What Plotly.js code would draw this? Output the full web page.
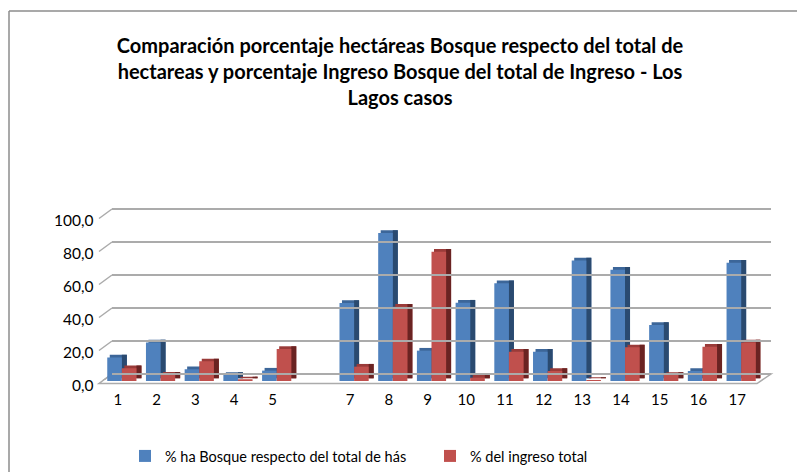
<!DOCTYPE html>
<html>
<head>
<meta charset="utf-8">
<script src="https://cdn.plot.ly/plotly-3.0.1.min.js"></script>
<style>html,body{margin:0;padding:0;background:#fff;}#chart{width:797px;height:472px;}</style>
</head>
<body>
<div id="chart"></div>
<script>
// ---- data ----
var categories = [1, 2, 3, 4, 5, 7, 8, 9, 10, 11, 12, 13, 14, 15, 16, 17];
var haBosque = [14.3, 23.4, 7.1, 3.6, 6.3, 47.3, 89.7, 18.4, 47.5, 59.2, 17.8, 73.1, 67.5, 33.9, 6.1, 71.7];
var ingresoTotal = [7.7, 3.8, 11.9, 1.0, 19.4, 8.7, 45.0, 78.4, 2.0, 17.8, 6.1, 0.6, 20.4, 3.6, 20.8, 23.4];
var seriesNames = ['% ha Bosque respecto del total de hás', '% del ingreso total'];
var yTickVals = [0, 20, 40, 60, 80, 100];
var yTickText = ['0,0', '20,0', '40,0', '60,0', '80,0', '100,0'];
var xTickText = categories.map(String);
var titleText = 'Comparación porcentaje hectáreas Bosque respecto del total de<br>hectareas y porcentaje Ingreso Bosque del total de Ingreso - Los<br>Lagos casos';

// ---- geometry helpers (layout only) ----
var W = 797, H = 472;
var ML = 99, MR = 26, MT = 200, MB = 88;
var PW = W - ML - MR, PH = H - MT - MB;
function fx(px) { return (px - ML) / PW; }
function fy(py) { return (H - MB - py) / PH; }

var unitPx = (760.5 - 102.5) / 17;      // px per category
var valPx = (381 - 216) / 100;          // px per value unit
var barW = 14.6 / unitPx;
var topShift = 2.5 / unitPx;
var sideW = 5 / unitPx;
var depthBase = 2.7 / valPx;

var font = 'Lato, "Open Sans", sans-serif';

function faces(vals, name, cFront, cTop, cSide, off) {
  return [
    { type: 'bar', x: categories, y: vals, base: depthBase, width: barW + topShift, offset: off + topShift,
      marker: { color: cTop }, showlegend: false, hoverinfo: 'skip' },
    { type: 'bar', x: categories, y: vals, base: depthBase, width: sideW, offset: off + barW,
      marker: { color: cSide }, showlegend: false, hoverinfo: 'skip' },
    { type: 'bar', x: categories, y: vals, width: barW, offset: off, name: name,
      marker: { color: cFront }, hovertemplate: '%{x}: %{y:.1f}<extra>' + name + '</extra>' }
  ];
}

var traces = [
  // back-wall helper (invisible) so gridline axes render
  { type: 'scatter', mode: 'markers', x: categories, y: haBosque, xaxis: 'x2', yaxis: 'y2',
    marker: { opacity: 0 }, showlegend: false, hoverinfo: 'skip' }
].concat(
  faces(haBosque, seriesNames[0], '#4F81BD', '#3C6699', '#2A4A70', -barW),
  faces(ingresoTotal, seriesNames[1], '#C0504D', '#9A3B39', '#6A2322', 0)
);

var shapes = [];
// floor
shapes.push({ type: 'path', xref: 'paper', yref: 'paper', layer: 'below',
  path: 'M ' + fx(99) + ' ' + fy(383.5) + ' L ' + fx(757) + ' ' + fy(383.5) +
        ' L ' + fx(771) + ' ' + fy(374) + ' L ' + fx(112) + ' ' + fy(374) + ' Z',
  line: { color: '#ABABAB', width: 1.5 }, fillcolor: '#FFFFFF' });
// diagonal connectors from front labels to back-wall gridlines
yTickVals.forEach(function (v) {
  shapes.push({ type: 'line', xref: 'paper', yref: 'y2', ysizemode: 'pixel', yanchor: v,
    x0: fx(112), x1: fx(99), y0: 0, y1: -9.5, layer: 'below',
    line: { color: '#ABABAB', width: 1.5 } });
});
// chart border (left & top visible)
shapes.push({ type: 'line', xref: 'paper', yref: 'paper', x0: fx(9), x1: fx(9), y0: fy(11), y1: fy(490),
  line: { color: '#8C8C8C', width: 1.5 } });
shapes.push({ type: 'line', xref: 'paper', yref: 'paper', x0: fx(9), x1: fx(810), y0: fy(11), y1: fy(11),
  line: { color: '#8C8C8C', width: 1.5 } });

var layout = {
  width: W, height: H,
  margin: { l: ML, r: MR, t: MT, b: MB, pad: 0, autoexpand: false },
  paper_bgcolor: '#FFFFFF', plot_bgcolor: 'rgba(0,0,0,0)',
  font: { family: font, color: '#000000', size: 15 },
  title: { text: titleText, font: { family: font, size: 20, color: '#000000', weight: 'bold' },
    x: 400 / W, xanchor: 'center', xref: 'container', y: 1 - 53 / H, yanchor: 'middle', yref: 'container',
    automargin: false },
  barmode: 'overlay',
  showlegend: true,
  legend: { orientation: 'h', x: fx(125), xanchor: 'left', y: fy(456), yanchor: 'middle',
    font: { family: font, size: 14.5, color: '#000000' }, entrywidth: 260, itemwidth: 30,
    bgcolor: 'rgba(0,0,0,0)' },
  xaxis: { domain: [fx(102.5), fx(760.5)], range: [0.5, 17.5], tickvals: categories, ticktext: xTickText,
    showgrid: false, zeroline: false, showline: false, ticks: '', ticklabelshift: -4, ticklabelstandoff: 8,
    tickfont: { family: font, size: 15, color: '#000000' }, anchor: 'y', fixedrange: true },
  yaxis: { domain: [fy(381), fy(216)], range: [0, 100], tickvals: yTickVals, ticktext: yTickText,
    showgrid: false, zeroline: false, showline: false, ticks: '', ticklabelshift: 5, ticklabelstandoff: 8,
    tickfont: { family: font, size: 15.5, color: '#000000' }, anchor: 'x', fixedrange: true },
  xaxis2: { domain: [fx(112), 1], range: [0.5, 17.5], anchor: 'y2', showticklabels: false, showgrid: false,
    zeroline: false, showline: false, ticks: '', fixedrange: true },
  yaxis2: { domain: [fy(380), fy(200)], range: [-(380 - 374) / valPx, (374 - 200) / valPx], anchor: 'x2',
    tickvals: yTickVals, showticklabels: false,
    showgrid: true, gridcolor: '#ABABAB', gridwidth: 2, zeroline: false, showline: false, ticks: '', fixedrange: true },
  shapes: shapes
};

Plotly.newPlot('chart', traces, layout, { displayModeBar: false, staticPlot: true });
</script>
</body>
</html>
